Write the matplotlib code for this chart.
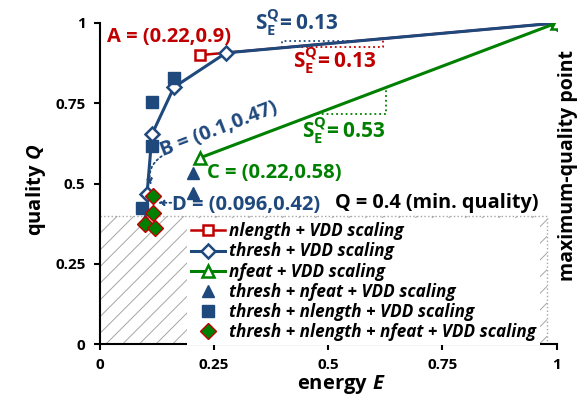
import numpy as np
import matplotlib.pyplot as plt
from matplotlib.patches import Rectangle

# fonts (Calibri-like look)
plt.rcParams['font.family'] = ['Open Sans', 'DejaVu Sans']
plt.rcParams['font.weight'] = 'bold'
plt.rcParams['mathtext.fontset'] = 'custom'
plt.rcParams['mathtext.rm'] = 'Open Sans:bold'
plt.rcParams['mathtext.bf'] = 'Open Sans:bold'
plt.rcParams['mathtext.it'] = 'Open Sans:italic:bold'
plt.rcParams['hatch.color'] = '#a6a6a6'
plt.rcParams['hatch.linewidth'] = 0.7

red = '#C00000'
blue = '#1F497D'
green = '#008000'

# data (energy E, quality Q)
nlen_E = [0.22, 1.0]
nlen_Q = [0.90, 1.0]
thr_E = [0.104, 0.115, 0.163, 0.277, 1.0]
thr_Q = [0.467, 0.654, 0.800, 0.907, 1.0]
nfeat_E = [0.22, 1.0]
nfeat_Q = [0.58, 1.0]
thr_nfeat_E = [0.205, 0.205, 0.100]
thr_nfeat_Q = [0.533, 0.470, 0.385]
thr_nlen_E = [0.162, 0.115, 0.115, 0.093]
thr_nlen_Q = [0.829, 0.755, 0.617, 0.424]
all_E = [0.117, 0.117, 0.100, 0.121]
all_Q = [0.461, 0.408, 0.374, 0.361]

q_min = 0.4
hatch_right = 0.98

# x-ranges of the slope marks
blue_slope_x = [0.40, 0.563]
red_slope_x = [0.41, 0.62]
green_slope_x = [0.476, 0.627]

ticks = [0, 0.25, 0.5, 0.75, 1]
tick_labels = ['0', '0.25', '0.5', '0.75', '1']

fig = plt.figure(figsize=(5.78, 4.09), dpi=100)
ax = fig.add_axes([99.5 / 578, 65 / 409, 457 / 578, 321 / 409])

# min quality region
ax.add_patch(Rectangle((0, 0), hatch_right, q_min, fill=False, hatch='//',
                       edgecolor='#a6a6a6', linewidth=0, zorder=1))
ax.plot([0, hatch_right, hatch_right], [q_min, q_min, 0], ls=':', color='#a6a6a6', lw=1, zorder=1)

ax.plot(nlen_E, nlen_Q, color=red, lw=1.8, marker='s', ms=7.5, mfc='white', mec=red, mew=1.8,
        label='nlength + VDD scaling', zorder=3)
ax.plot(thr_E, thr_Q, color=blue, lw=2.2, marker='D', ms=7, mfc='white', mec=blue, mew=1.8,
        label='thresh + VDD scaling', zorder=4)
ax.plot(nfeat_E, nfeat_Q, color=green, lw=2.2, marker='^', ms=8, mfc='white', mec=green, mew=1.8,
        label='nfeat + VDD scaling', zorder=4)
ax.plot(thr_nfeat_E, thr_nfeat_Q, ls='none', marker='^', ms=9, color=blue,
        label='thresh + nfeat + VDD scaling', zorder=5)
ax.plot(thr_nlen_E, thr_nlen_Q, ls='none', marker='s', ms=9, color=blue,
        label='thresh + nlength + VDD scaling', zorder=5)
ax.plot(all_E, all_Q, ls='none', marker='D', ms=8, mfc=green, mec=red, mew=1,
        label='thresh + nlength + nfeat + VDD scaling', zorder=6)

# slope marks
by = np.interp(blue_slope_x, thr_E, thr_Q)
ax.plot([blue_slope_x[0], blue_slope_x[0], blue_slope_x[1]], [by[0], by[1], by[1]],
        ls=':', color=blue, lw=1.3, zorder=2)
ry = np.interp(red_slope_x, nlen_E, nlen_Q)
ax.plot([red_slope_x[0], red_slope_x[1], red_slope_x[1]], [ry[0], ry[0], ry[1]],
        ls=':', color=red, lw=1.3, zorder=2)
gy = np.interp(green_slope_x, nfeat_E, nfeat_Q)
ax.plot([green_slope_x[0], green_slope_x[1], green_slope_x[1]], [gy[0], gy[0], gy[1]],
        ls=':', color=green, lw=1.3, zorder=2)

ax.text(0.34, 0.978, r'$\mathbf{S_E^Q\!=0.13}$', color=blue, fontsize=15, ha='left', va='baseline')
ax.text(0.423, 0.86, r'$\mathbf{S_E^Q\!=0.13}$', color=red, fontsize=15, ha='left', va='baseline')
ax.text(0.443, 0.642, r'$\mathbf{S_E^Q\!=0.53}$', color=green, fontsize=15, ha='left', va='baseline')

ax.text(0.016, 0.942, 'A = (0.22,0.9)', color=red, fontsize=14.5, ha='left', va='baseline')
ax.text(0.139, 0.586, 'B = (0.1,0.47)', color=blue, fontsize=14.5, ha='left', va='baseline',
        rotation=21, rotation_mode='anchor')
ax.text(0.235, 0.517, 'C = (0.22,0.58)', color=green, fontsize=14.5, ha='left', va='baseline')
ax.text(0.159, 0.417, 'D = (0.096,0.42)', color=blue, fontsize=14.5, ha='left', va='baseline')
ax.text(0.515, 0.424, 'Q = 0.4 (min. quality)', color='black', fontsize=14.3, ha='left', va='baseline')
ax.text(1.025, 0.557, 'maximum-quality point', color='black', fontsize=14, ha='center', va='center',
        rotation=90)

ax.annotate('', xy=(0.113, 0.495), xytext=(0.136, 0.585),
            arrowprops=dict(arrowstyle='-|>', ls=':', color=blue, lw=1.3, mutation_scale=8,
                            connectionstyle='arc3,rad=0.35', shrinkA=0, shrinkB=0))
ax.annotate('', xy=(0.128, 0.44), xytext=(0.157, 0.44),
            arrowprops=dict(arrowstyle='-|>', ls=':', color=blue, lw=1.3, mutation_scale=8,
                            shrinkA=0, shrinkB=0))
ax.annotate('', xy=(1.01, 0.915), xytext=(0.995, 0.975),
            arrowprops=dict(arrowstyle='-', ls=':', color='black', lw=1.3,
                            connectionstyle='arc3,rad=-0.4', shrinkA=0, shrinkB=0))

ax.set_xlim(0, 1)
ax.set_ylim(0, 1)
ax.set_xticks(ticks)
ax.set_xticklabels(tick_labels, fontweight='bold')
ax.set_yticks(ticks)
ax.set_yticklabels(tick_labels, fontweight='bold')
ax.tick_params(direction='out', length=4, width=1.5, labelsize=11, pad=6)
for s in ['top', 'right']:
    ax.spines[s].set_visible(False)
for s in ['left', 'bottom']:
    ax.spines[s].set_linewidth(1.5)

ax.set_xlabel(r'$\mathbf{energy}\ \mathit{E}$', fontsize=14.5, va='center')
ax.xaxis.set_label_coords(0.53, -0.127)
ax.set_ylabel(r'$\mathbf{quality}\ \mathit{Q}$', fontsize=14.5, va='center')
ax.yaxis.set_label_coords(-0.14, 0.48)

ax.legend(loc='upper left', bbox_to_anchor=(0.191, 0.392), frameon=True, facecolor='white',
          edgecolor='none', framealpha=1, fancybox=False, numpoints=1,
          prop=dict(family='Open Sans', style='italic', weight='bold', size=12.3),
          handlelength=2.0, handletextpad=0.2, labelspacing=0.12, borderpad=0.25,
          borderaxespad=0)

fig.savefig('out.png', dpi=100)
